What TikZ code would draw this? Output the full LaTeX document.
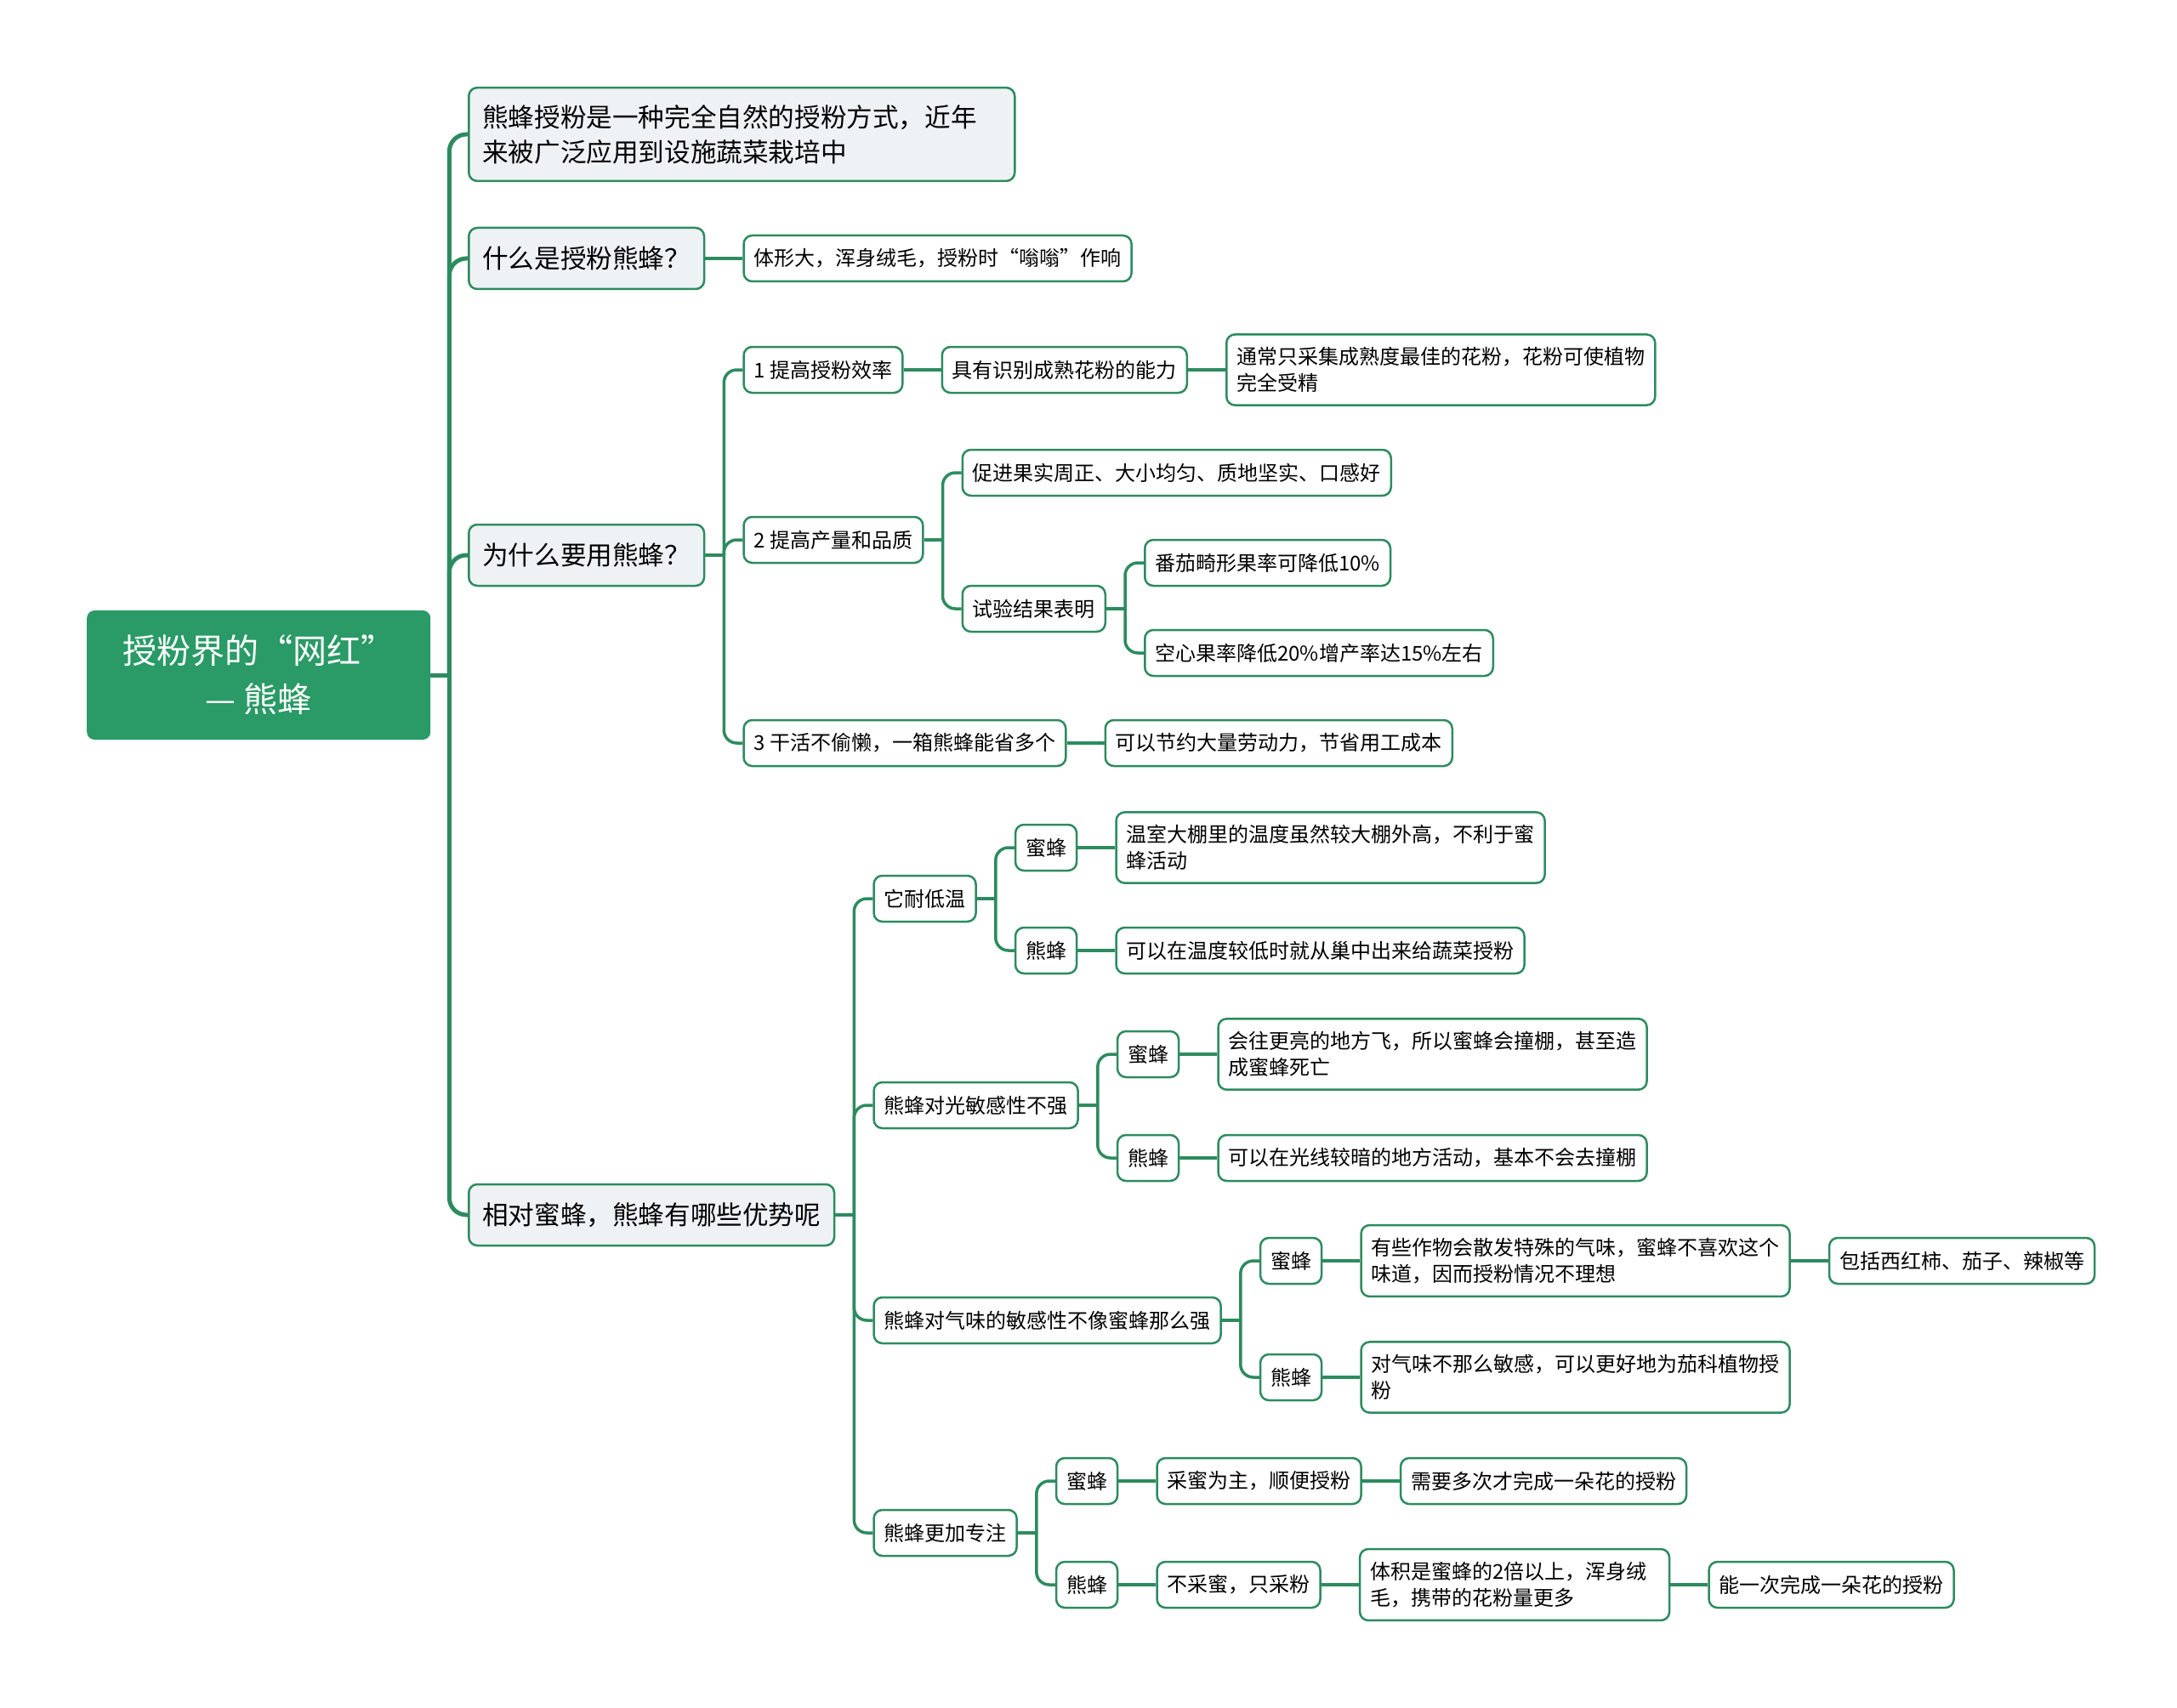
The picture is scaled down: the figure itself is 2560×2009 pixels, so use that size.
\documentclass[tikz,border=0pt]{standalone}
\usepackage{fontspec}
\usepackage{tikz}
\usetikzlibrary{positioning,calc}
\newfontfamily\cjk{Noto Sans CJK SC}
\definecolor{rootgreen}{HTML}{2A9A66}
\definecolor{linegreen}{HTML}{2D8B5F}
\definecolor{topicgray}{HTML}{EEF2F4}
\tikzset{
  rootbox/.style={fill=rootgreen, rounded corners=9pt, text=white, align=center,
    minimum width=404pt, minimum height=152pt, font=\cjk\fontsize{40pt}{57pt}\selectfont},
  topicbox/.style={draw=linegreen, line width=2.5pt, fill=topicgray, rounded corners=10pt,
    align=left, inner xsep=16pt, inner ysep=20pt, minimum height=72pt,
    font=\cjk\fontsize{30.6pt}{41pt}\selectfont},
  leafbox/.style={draw=linegreen, line width=2.5pt, fill=white, rounded corners=10pt,
    align=left, inner xsep=12pt, inner ysep=15pt, minimum height=54pt,
    font=\cjk\fontsize{24pt}{31pt}\selectfont},
  trunk/.style={draw=linegreen, line width=5pt, rounded corners=20pt},
  link/.style={draw=linegreen, line width=3.5pt, rounded corners=15pt}
}
\begin{document}
\begin{tikzpicture}[x=1pt, y=-1pt, node distance=44pt]
    \useasboundingbox (0,0) rectangle (2560,2009);
    % root and first level
    \node[rootbox, anchor=west] (root) at (102,794) {授粉界的“网红”\\— 熊蜂};
    \node[topicbox, anchor=west, text width=610pt] (intro) at (550,158) {熊蜂授粉是一种完全自然的授粉方式，近年\\来被广泛应用到设施蔬菜栽培中};
    \node[topicbox, anchor=west] (what) at (550,304) {什么是授粉熊蜂？};
    \node[topicbox, anchor=west] (why) at (550,653) {为什么要用熊蜂？};
    \node[topicbox, anchor=west] (adv) at (550,1429) {相对蜜蜂，熊蜂有哪些优势呢};
    % what
    \node[leafbox, right=of what] (looks) {体形大，浑身绒毛，授粉时“嗡嗡”作响};
    % why
    \node[leafbox, anchor=west] (eff) at ($(why.east|-0,435)+(44,0)$) {1 提高授粉效率};
    \node[leafbox, right=of eff] (ident) {具有识别成熟花粉的能力};
    \node[leafbox, right=of ident, text width=480pt] (ripe) {通常只采集成熟度最佳的花粉，花粉可使植物\\完全受精};
    \node[leafbox, anchor=west] (yield) at ($(why.east|-0,635)+(44,0)$) {2 提高产量和品质};
    \node[leafbox, anchor=west] (shape) at ($(yield.east|-0,556)+(44,0)$) {促进果实周正、大小均匀、质地坚实、口感好};
    \node[leafbox, anchor=west] (test) at ($(yield.east|-0,716)+(44,0)$) {试验结果表明};
    \node[leafbox, anchor=west] (tomato) at ($(test.east|-0,662)+(44,0)$) {番茄畸形果率可降低10\%};
    \node[leafbox, anchor=west] (hollow) at ($(test.east|-0,768)+(44,0)$) {空心果率降低20\%增产率达15\%左右};
    \node[leafbox, anchor=west] (labor) at ($(why.east|-0,874)+(44,0)$) {3 干活不偷懒，一箱熊蜂能省多个};
    \node[leafbox, right=of labor] (cost) {可以节约大量劳动力，节省用工成本};
    % advantages
    \node[leafbox, anchor=west] (cold) at ($(adv.east|-0,1057)+(44,0)$) {它耐低温};
    \node[leafbox, anchor=west] (coldhb) at ($(cold.east|-0,997)+(44,0)$) {蜜蜂};
    \node[leafbox, right=of coldhb, text width=480pt] (coldhbt) {温室大棚里的温度虽然较大棚外高，不利于蜜\\蜂活动};
    \node[leafbox, anchor=west] (coldbb) at ($(cold.east|-0,1118)+(44,0)$) {熊蜂};
    \node[leafbox, right=of coldbb] (coldbbt) {可以在温度较低时就从巢中出来给蔬菜授粉};
    \node[leafbox, anchor=west] (light) at ($(adv.east|-0,1300)+(44,0)$) {熊蜂对光敏感性不强};
    \node[leafbox, anchor=west] (lighthb) at ($(light.east|-0,1240)+(44,0)$) {蜜蜂};
    \node[leafbox, right=of lighthb, text width=480pt] (lighthbt) {会往更亮的地方飞，所以蜜蜂会撞棚，甚至造\\成蜜蜂死亡};
    \node[leafbox, anchor=west] (lightbb) at ($(light.east|-0,1362)+(44,0)$) {熊蜂};
    \node[leafbox, right=of lightbb] (lightbbt) {可以在光线较暗的地方活动，基本不会去撞棚};
    \node[leafbox, anchor=west] (smell) at ($(adv.east|-0,1553)+(44,0)$) {熊蜂对气味的敏感性不像蜜蜂那么强};
    \node[leafbox, anchor=west] (smellhb) at ($(smell.east|-0,1483)+(44,0)$) {蜜蜂};
    \node[leafbox, right=of smellhb, text width=480pt] (smellhbt) {有些作物会散发特殊的气味，蜜蜂不喜欢这个\\味道，因而授粉情况不理想};
    \node[leafbox, right=of smellhbt] (crops) {包括西红柿、茄子、辣椒等};
    \node[leafbox, anchor=west] (smellbb) at ($(smell.east|-0,1620)+(44,0)$) {熊蜂};
    \node[leafbox, right=of smellbb, text width=480pt] (smellbbt) {对气味不那么敏感，可以更好地为茄科植物授\\粉};
    \node[leafbox, anchor=west] (focus) at ($(adv.east|-0,1803)+(44,0)$) {熊蜂更加专注};
    \node[leafbox, anchor=west] (focushb) at ($(focus.east|-0,1742)+(44,0)$) {蜜蜂};
    \node[leafbox, right=of focushb] (nectar) {采蜜为主，顺便授粉};
    \node[leafbox, right=of nectar] (many) {需要多次才完成一朵花的授粉};
    \node[leafbox, anchor=west] (focusbb) at ($(focus.east|-0,1864)+(44,0)$) {熊蜂};
    \node[leafbox, right=of focusbb] (pollen) {不采蜜，只采粉};
    \node[leafbox, right=of pollen, text width=340pt] (size) {体积是蜜蜂的2倍以上，浑身绒\\毛，携带的花粉量更多};
    \node[leafbox, right=of size] (once) {能一次完成一朵花的授粉};
    % connectors
    \coordinate (rootj) at ([xshift=22pt]root.east);
    \draw[trunk] (root.east) -- (rootj);
    \foreach \n in {intro,what,why,adv} \draw[trunk] (rootj) |- (\n.west);
    \coordinate (whyj) at ([xshift=22pt]why.east);
    \draw[link] (why.east) -- (whyj);
    \foreach \n in {eff,yield,labor} \draw[link] (whyj) |- (\n.west);
    \coordinate (yieldj) at ([xshift=22pt]yield.east);
    \draw[link] (yield.east) -- (yieldj);
    \foreach \n in {shape,test} \draw[link] (yieldj) |- (\n.west);
    \coordinate (testj) at ([xshift=22pt]test.east);
    \draw[link] (test.east) -- (testj);
    \foreach \n in {tomato,hollow} \draw[link] (testj) |- (\n.west);
    \coordinate (advj) at ([xshift=22pt]adv.east);
    \draw[link] (adv.east) -- (advj);
    \foreach \n in {cold,light,smell,focus} \draw[link] (advj) |- (\n.west);
    \foreach \p/\a/\b in {cold/coldhb/coldbb, light/lighthb/lightbb, smell/smellhb/smellbb, focus/focushb/focusbb} {
      \coordinate (\p j) at ([xshift=22pt]\p.east);
      \draw[link] (\p.east) -- (\p j);
      \draw[link] (\p j) |- (\a.west);
      \draw[link] (\p j) |- (\b.west);
    }
    \draw[link] (what) -- (looks);
    \draw[link] (eff) -- (ident);
    \draw[link] (ident) -- (ripe);
    \draw[link] (labor) -- (cost);
    \draw[link] (coldhb) -- (coldhbt);
    \draw[link] (coldbb) -- (coldbbt);
    \draw[link] (lighthb) -- (lighthbt);
    \draw[link] (lightbb) -- (lightbbt);
    \draw[link] (smellhb) -- (smellhbt);
    \draw[link] (smellhbt) -- (crops);
    \draw[link] (smellbb) -- (smellbbt);
    \draw[link] (focushb) -- (nectar);
    \draw[link] (nectar) -- (many);
    \draw[link] (focusbb) -- (pollen);
    \draw[link] (pollen) -- (size);
    \draw[link] (size) -- (once);
\end{tikzpicture}
\end{document}
